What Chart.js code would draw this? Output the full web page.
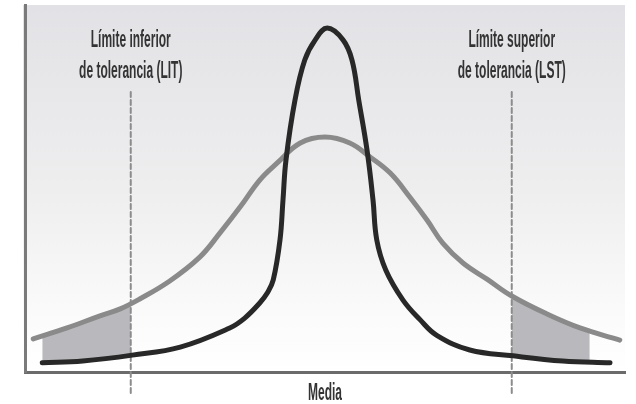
<!DOCTYPE html>
<html>
<head>
<meta charset="utf-8">
<script src="https://cdn.jsdelivr.net/npm/chart.js@4"></script>
<style>
  body { margin: 0; background: #fff; }
  canvas { display: block; }
</style>
</head>
<body>
<canvas id="chart" width="636" height="404"></canvas>
<script>
// Wide (gray) distribution
const grayX = [-3.89, -3.44, -3.0, -2.73, -2.47, -2.07, -1.67, -1.4, -1.13, -0.87, -0.64, -0.33, 0, 0.33, 0.6, 0.87, 1.13, 1.36, 1.57, 1.84, 2.16, 2.49, 2.96, 3.40, 3.93];
const grayY = [9.0, 12.0, 15.3, 17.2, 19.9, 24.8, 31.3, 37.9, 45.0, 52.3, 56.9, 62.4, 64.0, 62.4, 58.6, 54.2, 47.7, 41.4, 35.1, 29.7, 25.3, 20.7, 15.8, 12.0, 8.7];

// Narrow (dark) distribution
const darkX = [-3.77, -3.23, -2.57, -1.93, -1.27, -1.07, -0.87, -0.77, -0.69, -0.60, -0.56, -0.52, -0.40, -0.27, -0.13, 0.03, 0.24, 0.36, 0.45, 0.56, 0.64, 0.69, 0.81, 1.04, 1.27, 1.49, 1.93, 2.51, 3.17, 3.80];
const darkY = [2.5, 3.0, 4.6, 6.8, 12.0, 14.7, 18.8, 21.5, 25.1, 36.0, 46.9, 57.8, 74.1, 85.0, 90.5, 93.7, 90.5, 85.0, 74.1, 60.5, 46.9, 36.0, 27.8, 19.6, 14.2, 10.0, 6.0, 4.4, 3.0, 2.5];

// Shaded tails (between the two curves)
const leftShadeX = [-3.77, -3.44, -3.0, -2.59];
const leftShadeTop = [9.8, 12.0, 15.3, 18.5];
const leftShadeBottom = [2.5, 2.8, 3.6, 4.6];
const rightShadeX = [2.49, 2.96, 3.40, 3.53];
const rightShadeTop = [20.7, 15.8, 12.0, 11.3];
const rightShadeBottom = [4.4, 3.6, 3.0, 2.8];

// Tolerance limits
const limits = [-2.59, 2.49];
const limitTop = 76.8;
const limitBottom = -5.7;
const limitLabels = [
    ['Límite inferior', 'de tolerancia (LIT)'],
    ['Límite superior', 'de tolerancia (LST)']
];
const meanValue = 0;
const xTitle = 'Media';

function toPoints(xs, ys) {
    return xs.map((x, i) => ({ x: x, y: ys[i] }));
}

function drawCondensed(ctx, text, cx, baseline) {
    ctx.save();
    ctx.translate(cx, baseline);
    ctx.scale(0.5, 1);
    ctx.fillText(text, 0, 0);
    ctx.restore();
}

const backgroundPlugin = {
    id: 'bg',
    beforeDraw(chart) {
        const { ctx, chartArea } = chart;
        const g = ctx.createLinearGradient(0, chartArea.top, 0, chartArea.bottom);
        g.addColorStop(0, '#e2e2e6');
        g.addColorStop(0.5, '#eeeeef');
        g.addColorStop(0.8, '#f9f9f9');
        g.addColorStop(1, '#ffffff');
        ctx.save();
        ctx.fillStyle = g;
        ctx.fillRect(chartArea.left - 2, chartArea.top, chartArea.right - chartArea.left + 2, chartArea.bottom - chartArea.top);
        ctx.restore();
    }
};

const labelPlugin = {
    id: 'labels',
    afterDraw(chart) {
        const { ctx, chartArea } = chart;
        const xs = chart.scales.x;
        ctx.save();
        ctx.fillStyle = '#333333';
        ctx.font = 'bold 24px "Liberation Sans", Arial, sans-serif';
        ctx.textAlign = 'center';
        ctx.textBaseline = 'alphabetic';
        limits.forEach((v, i) => {
            const cx = xs.getPixelForValue(v);
            drawCondensed(ctx, limitLabels[i][0], cx, chartArea.top + 42);
            drawCondensed(ctx, limitLabels[i][1], cx, chartArea.top + 73);
        });
        drawCondensed(ctx, xTitle, xs.getPixelForValue(meanValue), chartArea.bottom + 28);
        ctx.restore();
    }
};

const shade = '#b9b9bd';

const datasets = [
    {
        data: toPoints(darkX, darkY),
        borderColor: '#282828',
        borderWidth: 5,
        tension: 0.4,
        order: 1
    },
    {
        data: toPoints(grayX, grayY),
        borderColor: '#8a8a8a',
        borderWidth: 5,
        tension: 0.4,
        order: 2
    },
    {
        data: toPoints(leftShadeX, leftShadeTop),
        borderWidth: 0,
        backgroundColor: shade,
        fill: '+1',
        tension: 0.4,
        order: 5
    },
    {
        data: toPoints(leftShadeX, leftShadeBottom),
        borderWidth: 0,
        tension: 0.4,
        order: 5
    },
    {
        data: toPoints(rightShadeX, rightShadeTop),
        borderWidth: 0,
        backgroundColor: shade,
        fill: '+1',
        tension: 0.4,
        order: 5
    },
    {
        data: toPoints(rightShadeX, rightShadeBottom),
        borderWidth: 0,
        tension: 0.4,
        order: 5
    }
];

limits.forEach(v => {
    datasets.push({
        data: [{ x: v, y: limitBottom }, { x: v, y: limitTop }],
        borderColor: '#8c8c8c',
        borderWidth: 2,
        borderDash: [5, 3],
        clip: false,
        order: 3
    });
});

new Chart(document.getElementById('chart'), {
    type: 'line',
    data: { datasets: datasets },
    options: {
        responsive: false,
        animation: false,
        layout: { padding: { left: 25, right: 11, top: 5, bottom: 32 } },
        elements: {
            point: { radius: 0, hoverRadius: 0 },
            line: { borderCapStyle: 'round', borderJoinStyle: 'round', fill: false }
        },
        plugins: {
            legend: { display: false },
            tooltip: { enabled: false }
        },
        scales: {
            x: {
                type: 'linear',
                min: -4,
                max: 4,
                grid: { display: false, drawTicks: false },
                ticks: { display: false },
                border: { display: true, color: '#6b6b6b', width: 3 }
            },
            y: {
                min: 0,
                max: 100,
                grid: { display: false, drawTicks: false },
                ticks: { display: false },
                border: { display: true, color: '#7a7a7a', width: 3 }
            }
        }
    },
    plugins: [backgroundPlugin, labelPlugin]
});
</script>
</body>
</html>
